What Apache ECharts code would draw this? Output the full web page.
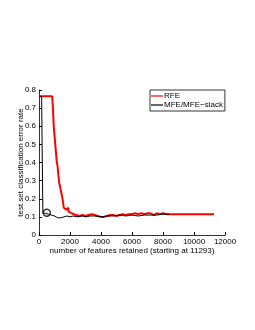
<!DOCTYPE html>
<html><head><meta charset="utf-8">
<script src="https://cdn.jsdelivr.net/npm/echarts@6/dist/echarts.min.js"></script>
<style>html,body{margin:0;padding:0;background:#fff}#c{width:255px;height:330px}</style>
</head><body><div id="c"></div>
<script>
const rfeX = [0, 850, 900, 950, 1000, 1050, 1100, 1150, 1200, 1250, 1300, 1350, 1400, 1450, 1500, 1550, 1600, 1650, 1700, 1750, 1800, 1850, 1900, 2000, 2100, 2200, 2400, 2600, 2800, 3000, 3200, 3400, 3600, 3800, 4000, 4200, 4400, 4600, 4800, 5000, 5200, 5400, 5600, 5800, 6000, 6200, 6400, 6600, 6800, 7000, 7200, 7400, 7600, 7800, 8000, 8200, 11293];
const rfeY = [0.765,0.765,0.70,0.60,0.55,0.50,0.45,0.40,0.38,0.33,0.29,0.27,0.25,0.25,0.21,0.18,0.15,0.16,0.14,0.15,0.14,0.15,0.13,0.12,0.115,0.11,0.105,0.11,0.105,0.11,0.115,0.11,0.105,0.10,0.10,0.105,0.11,0.11,0.105,0.11,0.115,0.11,0.115,0.115,0.12,0.115,0.12,0.115,0.12,0.12,0.11,0.12,0.115,0.12,0.115,0.115,0.115];
const mfeX = [0, 170, 200, 250, 400, 500, 600, 800, 1000, 1200, 1400, 1600, 1800, 2000, 2200, 2500, 2800, 3000, 3300, 3600, 4000, 4400, 4800, 5200, 5600, 6000, 6400, 6800, 7200, 7600, 8000, 8400];
const mfeY = [0.765,0.765,0.5,0.12,0.12,0.125,0.115,0.11,0.105,0.095,0.095,0.10,0.105,0.10,0.105,0.10,0.105,0.10,0.105,0.105,0.10,0.105,0.105,0.11,0.105,0.11,0.105,0.11,0.11,0.11,0.115,0.115];
const circleX = [500];
const circleY = [0.123];
const seriesNames = ['RFE', 'MFE/MFE\u2212slack'];
const xLabel = 'number of features retained (starting at 11293)';
const yLabel = 'test set classification error rate';

const zip = (a, b) => a.map((v, i) => [v, b[i]]);
const font = 'Liberation Sans, Arial, sans-serif';
const chart = echarts.init(document.getElementById('c'));
chart.setOption({
  animation: false,
  backgroundColor: '#fff',
  grid: {left: 39, right: 30, top: 90, bottom: 95},
  legend: {
    left: 150, top: 90, orient: 'vertical', itemGap: 1, padding: [2, 2, 2, 1],
    borderColor: '#000', borderWidth: 0.8, itemWidth: 12, itemHeight: 8,
    textStyle: {fontFamily: font, fontSize: 8, color: '#000', padding: [0, 0, 0, -4]},
    data: [{name: seriesNames[0], icon: 'path://M0,0H10V1H0Z'}, {name: seriesNames[1], icon: 'path://M0,0H10V1H0Z'}]
  },
  xAxis: {
    type: 'value', min: 0, max: 12000, interval: 2000,
    name: xLabel, nameLocation: 'middle', nameGap: 12, nameMoveOverlap: false,
    nameTextStyle: {fontFamily: font, fontSize: 8, color: '#000'},
    axisLine: {lineStyle: {color: '#000', width: 0.8}},
    axisTick: {inside: true, length: 3, lineStyle: {color: '#000'}},
    axisLabel: {fontFamily: font, fontSize: 8, color: '#000', margin: 3, formatter: v => String(v)},
    splitLine: {show: false}
  },
  yAxis: {
    type: 'value', min: 0, max: 0.8, interval: 0.1,
    name: yLabel, nameLocation: 'middle', nameGap: 14, nameMoveOverlap: false,
    nameTextStyle: {fontFamily: font, fontSize: 8, color: '#000'},
    axisLine: {show: true, lineStyle: {color: '#000', width: 0.8}},
    axisTick: {show: true, inside: true, length: 3, lineStyle: {color: '#000'}},
    axisLabel: {fontFamily: font, fontSize: 8, color: '#000', margin: 3, formatter: v => String(+v.toFixed(1))},
    splitLine: {show: false}
  },
  series: [
    {name: seriesNames[0], type: 'line', data: zip(rfeX, rfeY), showSymbol: false, symbol: 'none', step: 'end',
     lineStyle: {color: '#f00', width: 2}, itemStyle: {color: '#f00'}, z: 2},
    {name: seriesNames[1], type: 'line', data: zip(mfeX, mfeY), showSymbol: false, symbol: 'none',
     lineStyle: {color: '#000', width: 1}, itemStyle: {color: '#000'}, z: 3},
    {type: 'scatter', data: zip(circleX, circleY), symbol: 'circle', symbolSize: 7,
     itemStyle: {color: 'rgba(255,255,255,0)', borderColor: '#000', borderWidth: 1.5}, z: 4}
  ]
});
</script></body></html>
